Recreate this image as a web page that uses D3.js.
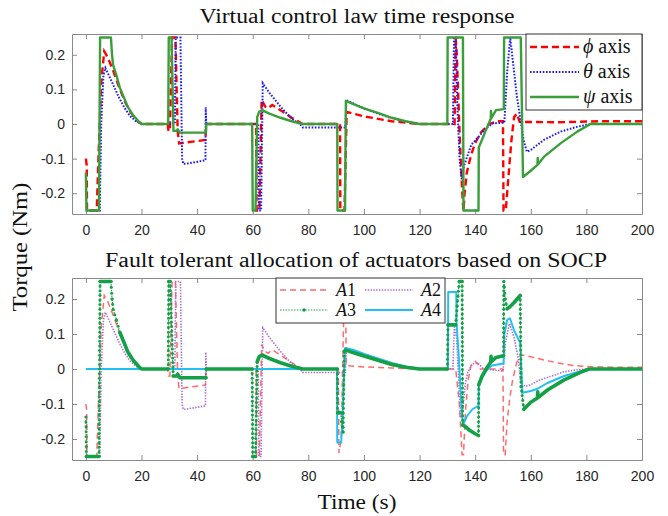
<!DOCTYPE html>
<html>

<head>
    <meta charset="utf-8">
    <style>
        body {
            margin: 0;
            background: #fff;
        }

        svg {
            display: block;
        }

        .tick text {
            font-family: 'Liberation Sans', Arial, Helvetica, sans-serif;
            font-size: 14px;
            fill: #262626;
        }

        .serif {
            font-family: 'Liberation Serif', 'Times New Roman', Times, 'DejaVu Serif', serif;
            fill: #111;
        }
    </style>
</head>

<body>
    <svg width="668" height="516"></svg>

    <script src="https://d3js.org/d3.v7.min.js"></script>

    <script>
        // ---- data: [time (s), torque (Nm)] ----
        const timeTicks = [0, 20, 40, 60, 80, 100, 120, 140, 160, 180, 200];
        const torqueTicks = [-0.2, -0.1, 0, 0.1, 0.2];

        // top panel: virtual control law
        const phiAxis = [[0, -0.10], [0.3, -0.12], [0.4, -0.25], [3.9, -0.25], [4.5, -0.1], [5.5, 0.12], [6.6, 0.21], [8, 0.19], [10, 0.15], [12, 0.105], [14, 0.065], [16, 0.035], [18, 0.012], [20, 0],
            [29.4, 0], [29.7, -0.02], [30.2, -0.02], [31, 0.25], [32.2, 0.25], [33, -0.02], [33.5, -0.056], [43, -0.046], [43.2, 0],
            [61.2, 0], [61.4, -0.25], [62.4, -0.25], [63.2, 0.07], [64.5, 0.05], [65.5, 0.045], [67, 0.055], [70, 0.04], [74, 0.018], [78, 0],
            [91.4, 0], [91.5, -0.25], [93, -0.25], [93.8, 0.035], [100, 0.022], [110, 0.008], [120, 0],
            [132.6, 0], [133, 0.25], [133.4, 0.2], [134.5, -0.05], [135.5, -0.22], [135.8, -0.25], [136.2, -0.2], [137, -0.14], [138.5, -0.09], [140, -0.055], [142, -0.025], [145, 0], [148, 0.008], [150, 0.008],
            [150.2, -0.25], [151, -0.25], [152, -0.15], [153, -0.05], [154, 0.02], [155, 0.03], [156, 0.006], [170, 0.005], [185, 0.008], [200, 0.008]];

        const thetaAxis = [[0, -0.25], [5, -0.25], [5.5, 0.0], [6.3, 0.14], [7, 0.162], [8, 0.145], [10, 0.11], [12, 0.075], [14, 0.045], [16, 0.022], [18, 0.008], [20, 0],
            [32, 0], [32.3, 0.25], [34, 0.25], [34.6, -0.1], [35, -0.115], [36, -0.115], [43, -0.105], [43.1, 0.048], [43.3, 0],
            [62, 0], [62.2, -0.25], [63, -0.25], [63.6, 0.118], [66, 0.09], [70, 0.05], [74, 0.015], [77, 0], [78, -0.01],
            [93.3, -0.01], [93.7, 0.068], [96, 0.06], [100, 0.045], [105, 0.03], [110, 0.017], [115, 0.007], [120, 0],
            [132, 0], [132.4, 0.25], [133, 0.25], [133.6, 0.05], [134.4, -0.1], [135.2, -0.16], [136, -0.12], [137.6, -0.083], [138.6, -0.06], [141.2, -0.037], [143.9, -0.012], [146.5, 0.002], [150.5, 0.004],
            [151.5, 0.15], [152.6, 0.25], [153.3, 0.2], [155, 0.08], [157.4, -0.046], [158.6, -0.08], [160, -0.075], [164.7, -0.046], [170.7, -0.022], [176.7, -0.008], [181.5, 0], [200, 0]];

        const psiAxis = [[0, -0.14], [0.2, -0.25], [4.7, -0.25], [5.1, 0.25], [9, 0.25], [9.4, 0.2], [9.8, 0.17], [11, 0.14], [12.2, 0.105], [14, 0.07], [15, 0.05], [17, 0.025], [19, 0.007], [20, 0],
            [29.6, 0], [29.8, 0.25], [30.8, 0.25], [31.5, -0.02], [32.5, -0.02], [33, -0.015], [33.8, -0.025], [43.2, -0.025], [43.3, 0],
            [59.8, 0], [60, -0.25], [61, -0.25], [61.6, 0.02], [62.3, 0.035], [63.3, 0.04], [66, 0.03], [70, 0.018], [74, 0.008], [78, 0],
            [90.4, 0], [90.5, -0.25], [93.2, -0.25], [93.5, 0.067], [96, 0.058], [100, 0.045], [105, 0.032], [110, 0.018], [115, 0.008], [120, 0],
            [130, 0], [130.1, 0.25], [135.6, 0.25], [135.8, -0.25], [141.2, -0.25], [141.3, -0.068], [142.5, -0.045], [143.9, -0.017], [145.6, 0.015], [145.7, 0.038], [145.8, 0.017], [147.5, 0.04], [150.3, 0.043],
            [150.4, 0.25], [156.4, 0.25], [157.2, -0.153], [160, -0.135], [162.4, -0.118], [162.5, -0.098], [162.6, -0.116], [164.7, -0.095], [170.7, -0.056], [176.7, -0.022], [181.5, 0], [200, 0]];

        // bottom panel: actuator allocation
        const a1 = [[0, -0.10], [0.3, -0.12], [0.4, -0.25], [3.9, -0.25], [4.5, -0.1], [5.5, 0.12], [6.6, 0.21], [8, 0.19], [10, 0.15], [12, 0.105], [14, 0.065], [16, 0.035], [18, 0.012], [20, 0],
            [29.4, 0], [29.7, -0.02], [30.2, -0.02], [31, 0.25], [32.2, 0.25], [33, -0.02], [33.5, -0.056], [43, -0.046], [43.2, 0],
            [61.2, 0], [61.4, -0.25], [62.4, -0.25], [63.2, 0.07], [64.5, 0.05], [65.5, 0.045], [67, 0.055], [70, 0.04], [74, 0.018], [78, 0],
            [90.8, 0], [91, -0.24], [91.8, -0.2], [93, 0.26], [93.4, 0.26], [93.6, 0.01], [100, 0.006], [110, 0.003], [120, 0],
            [133, 0], [134.3, -0.1], [135.3, -0.245], [135.8, -0.245], [136.5, -0.12], [137.5, -0.03], [138.5, 0.01], [140, 0.022], [141, 0.015], [141.5, 0], [150, 0],
            [150.2, -0.245], [150.8, -0.245], [151.5, -0.15], [152.5, -0.08], [153.5, -0.03], [155, 0.02], [156.5, 0.04], [160, 0.035], [165, 0.025], [170, 0.017], [175, 0.01], [180, 0.007], [190, 0.005], [200, 0.005]];

        const a2 = [[0, -0.25], [5, -0.25], [5.5, 0.0], [6.3, 0.14], [7, 0.162], [8, 0.145], [10, 0.11], [12, 0.075], [14, 0.045], [16, 0.022], [18, 0.008], [20, 0],
            [32, 0], [32.3, 0.25], [34, 0.25], [34.6, -0.1], [35, -0.115], [36, -0.115], [43, -0.105], [43.1, 0.048], [43.3, 0],
            [62, 0], [62.2, -0.25], [63, -0.25], [63.6, 0.118], [66, 0.09], [70, 0.05], [74, 0.015], [77, 0], [78, -0.01],
            [93.3, -0.01], [93.7, 0.06], [96, 0.055], [100, 0.043], [105, 0.03], [110, 0.017], [115, 0.007], [120, 0],
            [132, 0], [132.5, 0.12], [133.3, 0.09], [134.2, -0.05], [134.8, -0.14], [135.6, -0.11], [136.5, -0.04], [137.3, -0.01], [139, 0.015], [141, 0.017], [143, 0], [150, -0.006],
            [151, 0.08], [152.3, 0.13], [154, 0.09], [155.5, 0.03], [156.4, -0.04], [158, -0.05], [160, -0.045], [163, -0.032], [168.4, -0.018], [172, -0.008], [177, -0.002], [181, 0], [200, 0]];

        const a3 = [[0, -0.137], [0.2, -0.25], [4.7, -0.25], [5.1, 0.25], [9, 0.25], [9.4, 0.2], [9.8, 0.17], [11, 0.14], [12.2, 0.105], [14, 0.07], [15, 0.05], [17, 0.025], [19, 0.007], [20, 0],
            [29.6, 0], [29.8, 0.25], [30.3, 0.25], [31.4, -0.02], [32.5, -0.02], [33, -0.015], [33.8, -0.025], [43.2, -0.025], [43.3, 0],
            [59.8, 0], [60, -0.25], [61, -0.25], [61.6, 0.02], [62.3, 0.035], [63.3, 0.04], [66, 0.03], [70, 0.018], [74, 0.008], [78, 0],
            [90.4, 0], [90.5, -0.125], [91.6, -0.125], [92, -0.15], [92.5, -0.18], [92.9, 0.05], [93.5, 0.054], [96, 0.047], [100, 0.037], [105, 0.025], [110, 0.013], [115, 0.005], [120, 0],
            [130, 0], [130.2, 0.126], [133, 0.126], [133.5, 0.18], [134.3, 0.25], [135.3, 0.25], [135.5, -0.16], [136.5, -0.165], [138, -0.175], [140, -0.185], [141.2, -0.19],
            [141.3, -0.045], [142.5, -0.02], [144.4, 0.006], [145.6, 0.02], [145.7, 0.036], [145.8, 0.021], [147.5, 0.033], [150.2, 0.038],
            [150.3, 0.25], [150.8, 0.2], [151.5, 0.172], [152.5, 0.178], [154, 0.19], [156.2, 0.21], [156.5, -0.05], [157.5, -0.115], [160, -0.095], [162.4, -0.083], [162.5, -0.065], [162.6, -0.082], [166, -0.06], [172, -0.031], [178, -0.009], [181, 0], [200, 0]];

        const a4 = [[0, 0], [90.3, 0], [90.4, -0.21], [91.8, -0.21], [92.2, -0.15], [93.2, 0.06], [96, 0.055], [100, 0.043], [105, 0.03], [110, 0.017], [115, 0.007], [120, 0],
            [130.2, 0], [130.3, 0.22], [133.2, 0.22], [133.3, 0.13], [134, 0.05], [135, -0.1], [135.6, -0.16], [137, -0.135], [139, -0.115], [141.2, -0.105],
            [141.3, -0.045], [142.5, -0.025], [144, -0.005], [146, 0.01], [150.2, 0.016], [150.5, 0.1], [151.5, 0.14], [152.5, 0.145], [154, 0.11], [156.2, 0.075],
            [157, -0.068], [160, -0.063], [162, -0.058], [166, -0.04], [172, -0.02], [178, -0.006], [181, 0], [200, 0]];

        // ---- layout ----
        let svg = d3.select("svg");
        let left = 72, right = 642;
        let serifFont = "'Liberation Serif', 'Times New Roman', Times, 'DejaVu Serif', serif";

        let x = d3.scaleLinear().domain([-5, 200]).range([left, right]);
        let yTop = d3.scaleLinear().domain([-0.26, 0.26]).range([214, 34]);
        let yBot = d3.scaleLinear().domain([-0.26, 0.26]).range([460, 278]);

        function drawAxes(y, id) {
            let g = svg.append("g");
            let y0 = y.range()[0], y1 = y.range()[1];

            g.append("g")
                .attr("transform", `translate(0,${y0})`)
                .call(d3.axisBottom(x).tickValues(timeTicks).tickSize(-5).tickSizeOuter(0).tickPadding(11).tickFormat(d => d));
            g.append("g")
                .attr("transform", `translate(0,${y1})`)
                .call(d3.axisTop(x).tickValues(timeTicks).tickSize(-5).tickSizeOuter(0).tickFormat(""));
            g.append("g")
                .attr("transform", `translate(${left},0)`)
                .call(d3.axisLeft(y).tickValues(torqueTicks).tickSize(-5).tickSizeOuter(0).tickPadding(7).tickFormat(d => String(d)));
            g.append("g")
                .attr("transform", `translate(${right},0)`)
                .call(d3.axisRight(y).tickValues(torqueTicks).tickSize(-5).tickSizeOuter(0).tickFormat(""));

            g.selectAll(".domain").attr("stroke", "#8a8a8a");
            g.selectAll(".tick line").attr("stroke", "#8a8a8a");

            svg.append("clipPath").attr("id", id)
                .append("rect")
                .attr("x", left).attr("y", y1)
                .attr("width", right - left).attr("height", y0 - y1);
        }

        drawAxes(yTop, "clipTop");
        drawAxes(yBot, "clipBot");

        function lineOf(y) {
            return d3.line().x(d => x(d[0])).y(d => y(d[1]));
        }

        // ---- top panel lines ----
        let topG = svg.append("g").attr("clip-path", "url(#clipTop)");

        topG.append("path").datum(phiAxis)
            .attr("d", lineOf(yTop))
            .attr("fill", "none").attr("stroke", "#ff0000")
            .attr("stroke-width", 2.4).attr("stroke-dasharray", "7,4");

        topG.append("path").datum(thetaAxis)
            .attr("d", lineOf(yTop))
            .attr("fill", "none").attr("stroke", "#1a1aff")
            .attr("stroke-width", 2).attr("stroke-dasharray", "1.6,1.6");

        topG.append("path").datum(psiAxis)
            .attr("d", lineOf(yTop))
            .attr("fill", "none").attr("stroke", "#3a9f3a")
            .attr("stroke-width", 2.4).attr("stroke-linejoin", "round");

        // ---- bottom panel lines ----
        let botG = svg.append("g").attr("clip-path", "url(#clipBot)");

        botG.append("path").datum(a1)
            .attr("d", lineOf(yBot))
            .attr("fill", "none").attr("stroke", "#ff6b6b")
            .attr("stroke-width", 1.5).attr("stroke-dasharray", "6,4");

        botG.append("path").datum(a2)
            .attr("d", lineOf(yBot))
            .attr("fill", "none").attr("stroke", "#a86cd0")
            .attr("stroke-width", 1.6).attr("stroke-dasharray", "1.4,1.4");

        botG.append("path").datum(a4)
            .attr("d", lineOf(yBot))
            .attr("fill", "none").attr("stroke", "#22c0f2")
            .attr("stroke-width", 2).attr("stroke-linejoin", "round");

        // A3: dense markers look like a thick line where it moves slowly,
        // and like a dotted line with dots on the fast jumps
        let a3Color = "#13a047";
        let a3g = botG.append("g");
        let run = [a3[0]];
        for (let i = 1; i < a3.length; i++) {
            let p0 = a3[i - 1], p1 = a3[i];
            let dx = Math.abs(x(p1[0]) - x(p0[0]));
            let dy = Math.abs(yBot(p1[1]) - yBot(p0[1]));
            if (dy > 8 && dy > 3 * dx) {
                if (run.length > 1) {
                    a3g.append("path").datum(run).attr("d", lineOf(yBot))
                        .attr("fill", "none").attr("stroke", a3Color)
                        .attr("stroke-width", 3.6).attr("stroke-linejoin", "round").attr("stroke-linecap", "round");
                }
                a3g.append("path").datum([p0, p1]).attr("d", lineOf(yBot))
                    .attr("fill", "none").attr("stroke", a3Color)
                    .attr("stroke-width", 1.2).attr("stroke-dasharray", "1.4,1.4");
                let n = Math.floor(Math.hypot(dx, dy) / 4.5);
                for (let k = 0; k <= n; k++) {
                    let f = n ? k / n : 0;
                    a3g.append("circle")
                        .attr("cx", x(p0[0]) + (x(p1[0]) - x(p0[0])) * f)
                        .attr("cy", yBot(p0[1]) + (yBot(p1[1]) - yBot(p0[1])) * f)
                        .attr("r", 1.5).attr("fill", a3Color);
                }
                run = [p1];
            } else {
                run.push(p1);
            }
        }
        if (run.length > 1) {
            a3g.append("path").datum(run).attr("d", lineOf(yBot))
                .attr("fill", "none").attr("stroke", a3Color)
                .attr("stroke-width", 3.6).attr("stroke-linejoin", "round").attr("stroke-linecap", "round");
        }

        // ---- titles and labels ----
        function serifText(px, py, size, len, str, transform) {
            let t = svg.append("text").attr("class", "serif")
                .attr("font-family", serifFont)
                .attr("font-size", size).attr("text-anchor", "middle")
                .attr("textLength", len).attr("lengthAdjust", "spacingAndGlyphs")
                .text(str);
            if (transform) t.attr("transform", transform);
            else t.attr("x", px).attr("y", py);
            return t;
        }

        serifText(357, 23, 20, 315, "Virtual control law time response");
        serifText(356, 267, 20, 502, "Fault tolerant allocation of actuators based on SOCP");
        serifText(0, 0, 20, 129, "Torque (Nm)", "translate(27,247) rotate(-90)");
        serifText(357, 509, 20, 79, "Time (s)");

        // ---- legend, top ----
        let legTop = svg.append("g");
        legTop.append("rect")
            .attr("x", 526).attr("y", 34).attr("width", 116).attr("height", 76)
            .attr("fill", "#fff").attr("stroke", "#333").attr("stroke-width", 1);

        let topItems = [
            { sym: "\u03D5", color: "#ff0000", width: 2.4, dash: "7,4" },
            { sym: "\u03B8", color: "#1a1aff", width: 2, dash: "1.6,1.6" },
            { sym: "\u03C8", color: "#3a9f3a", width: 2.4, dash: null }
        ];
        topItems.forEach((it, i) => {
            let yy = 47 + i * 25;
            legTop.append("line")
                .attr("x1", 530).attr("x2", 579).attr("y1", yy).attr("y2", yy)
                .attr("stroke", it.color).attr("stroke-width", it.width)
                .attr("stroke-dasharray", it.dash);
            let t = legTop.append("text").attr("class", "serif")
                .attr("font-family", serifFont)
                .attr("x", 583).attr("y", yy + 6).attr("font-size", 20);
            t.append("tspan").attr("font-style", "italic").text(it.sym);
            t.append("tspan").text(" axis");
        });

        // ---- legend, bottom ----
        let legBot = svg.append("g");
        legBot.append("rect")
            .attr("x", 276).attr("y", 278).attr("width", 169).attr("height", 45)
            .attr("fill", "#fff").attr("stroke", "#333").attr("stroke-width", 1);

        let botItems = [
            { name: "A1", color: "#ff6b6b", width: 1.5, dash: "6,4", col: 0, row: 0 },
            { name: "A2", color: "#a86cd0", width: 1.6, dash: "1.4,1.4", col: 1, row: 0 },
            { name: "A3", color: a3Color, width: 1.2, dash: "1.4,1.4", col: 0, row: 1, marker: true },
            { name: "A4", color: "#22c0f2", width: 2, dash: null, col: 1, row: 1 }
        ];
        botItems.forEach(it => {
            let yy = 290 + it.row * 20;
            let x0 = it.col ? 365 : 280;
            legBot.append("line")
                .attr("x1", x0).attr("x2", x0 + 48).attr("y1", yy).attr("y2", yy)
                .attr("stroke", it.color).attr("stroke-width", it.width)
                .attr("stroke-dasharray", it.dash);
            if (it.marker) {
                legBot.append("circle").attr("cx", x0 + 24).attr("cy", yy)
                    .attr("r", 1.8).attr("fill", it.color);
            }
            let t = legBot.append("text").attr("class", "serif")
                .attr("font-family", serifFont)
                .attr("x", x0 + 56).attr("y", yy + 6).attr("font-size", 18);
            t.append("tspan").attr("font-style", "italic").text(it.name[0]);
            t.append("tspan").text(it.name[1]);
        });
    </script>
</body>

</html>
